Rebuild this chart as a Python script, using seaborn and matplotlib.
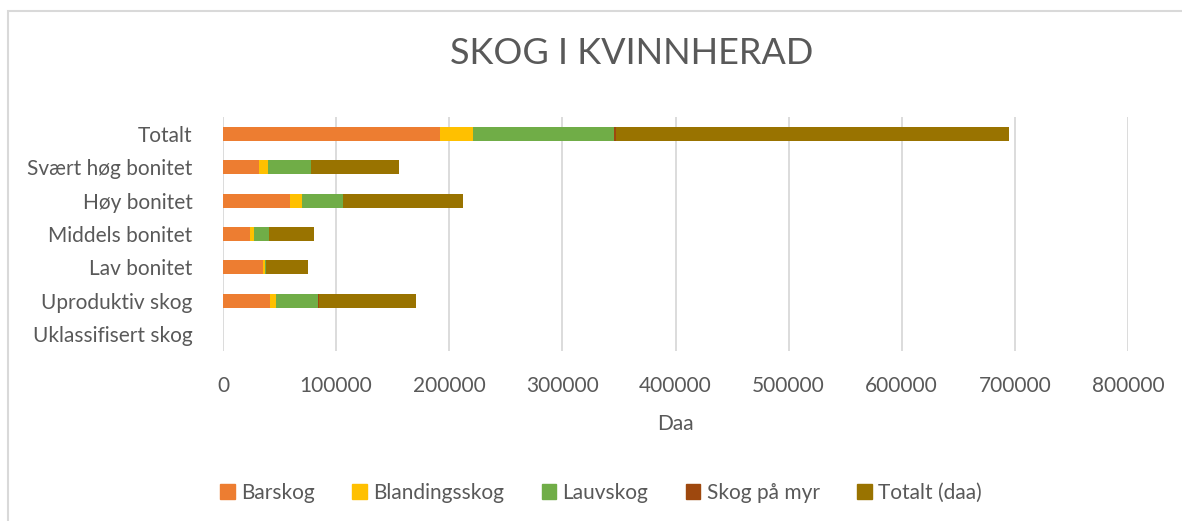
import numpy as np
import pandas as pd
import matplotlib
matplotlib.use("Agg")
import matplotlib.pyplot as plt
import matplotlib.patches as mpatches
import seaborn as sns

# --- dati (daa) ---
kategorier = ["Totalt", "Svært høg bonitet", "Høy bonitet", "Middels bonitet",
              "Lav bonitet", "Uproduktiv skog", "Uklassifisert skog"]
barskog = [191700, 31800, 59200, 23800, 35300, 41500, 0]
blandingsskog = [29500, 7700, 10300, 3600, 2000, 5600, 0]
lauvskog = [124500, 38200, 36500, 12900, 400, 36500, 0]
skog_paa_myr = [1800, 0, 0, 0, 0, 1200, 0]
totalt_daa = [347200, 77600, 105900, 40500, 37800, 85700, 0]

serier = ["Barskog", "Blandingsskog", "Lauvskog", "Skog på myr", "Totalt (daa)"]
farger = ["#ED7D31", "#FFC000", "#70AD47", "#9E480E", "#997300"]
tekstfarge = "#595959"

df = pd.DataFrame({
    "kategori": kategorier,
    "Barskog": barskog,
    "Blandingsskog": blandingsskog,
    "Lauvskog": lauvskog,
    "Skog på myr": skog_paa_myr,
    "Totalt (daa)": totalt_daa,
})

# cumulative sums for stacking (draw the longest first)
kum = df[serier].cumsum(axis=1)

sns.set_theme(style="white")
plt.rcParams["font.family"] = ["Lato", "DejaVu Sans"]

fig = plt.figure(figsize=(11.82, 5.21), dpi=100)
ax = fig.add_axes([223 / 1182, 1 - 351 / 521, (1128 - 223) / 1182, (351 - 117) / 521])

for serie, farge in reversed(list(zip(serier, farger))):
    sns.barplot(x=kum[serie], y=df["kategori"], orient="h", color=farge,
                width=0.42, linewidth=0, saturation=1, ax=ax)

ax.set_xlim(0, 800000)
ax.set_xticks(np.arange(0, 800001, 100000))
ax.set_xticklabels([str(v) for v in range(0, 800001, 100000)])
ax.grid(axis="x", color="#D9D9D9", linewidth=1.3)
ax.grid(axis="y", visible=False)
ax.set_axisbelow(True)
for s in ax.spines.values():
    s.set_visible(False)
ax.tick_params(axis="both", length=0, labelsize=15, labelcolor=tekstfarge)
ax.tick_params(axis="x", pad=18)
ax.tick_params(axis="y", pad=22)
ax.set_ylabel("")
ax.set_xlabel("Daa", fontsize=15, color=tekstfarge, labelpad=13)

fig.suptitle("SKOG I KVINNHERAD", x=632 / 1182, y=1 - 53 / 521,
             va="center", fontsize=26, color=tekstfarge)

handles = [mpatches.Patch(color=f, label=s) for s, f in zip(serier, farger)]
fig.legend(handles=handles, loc="center", bbox_to_anchor=(601 / 1182, 1 - 493 / 521),
           ncol=5, frameon=False, fontsize=15, labelcolor=tekstfarge,
           handlelength=0.7, handleheight=0.7, handletextpad=0.3, columnspacing=1.8)

# chart border (cut off at the right and bottom like the screenshot)
fig.patches.append(mpatches.Rectangle((8 / 1182, -0.2), 1.2, 1 - 11 / 521 + 0.2,
                                      transform=fig.transFigure, fill=False,
                                      edgecolor="#D9D9D9", linewidth=1.5))

fig.savefig("out.png", dpi=100)
